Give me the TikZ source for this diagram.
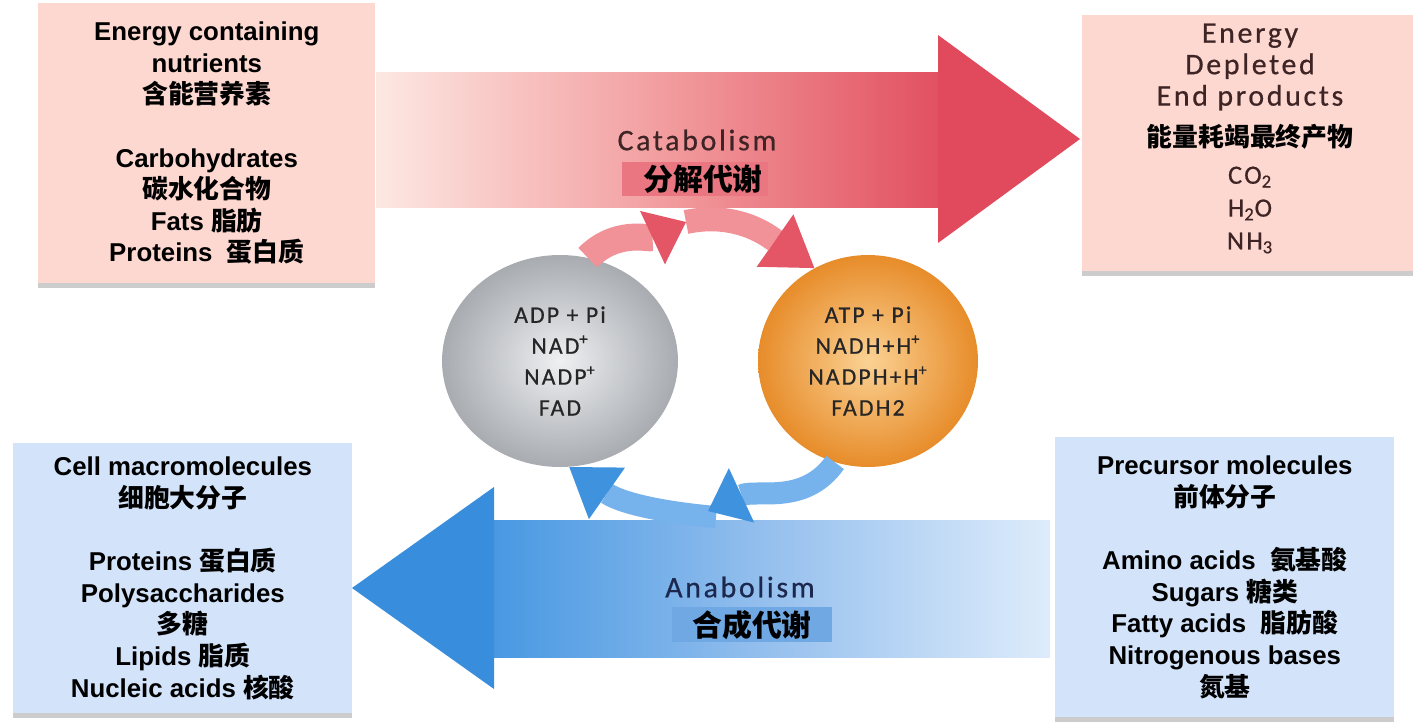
\documentclass[tikz,border=0pt]{standalone}
\usepackage{fontspec}
\setmainfont{Liberation Sans}
\newfontfamily\cjk{Noto Sans CJK SC}
\newfontfamily\cali{Carlito}[LetterSpace=9, FakeBold=0.6]
\usetikzlibrary{arrows.meta,shapes.geometric,shadows,positioning}
\newcommand\zh[1]{{\cjk\bfseries #1}}

\definecolor{pinkbox}{RGB}{253,216,209}
\definecolor{bluebox}{RGB}{211,228,250}
\definecolor{catpale}{RGB}{253,232,226}
\definecolor{catmid}{RGB}{242,158,160}
\definecolor{catbody}{RGB}{226,80,96}
\definecolor{cathead}{RGB}{225,74,92}
\definecolor{catlabel}{RGB}{233,118,128}
\definecolor{anabody}{RGB}{72,152,226}
\definecolor{anamid}{RGB}{150,192,238}
\definecolor{anapale}{RGB}{222,236,251}
\definecolor{anahead}{RGB}{56,142,220}
\definecolor{analabel}{RGB}{112,168,228}
\definecolor{grayin}{RGB}{238,240,242}
\definecolor{grayout}{RGB}{168,171,176}
\definecolor{orangein}{RGB}{251,210,148}
\definecolor{orangeout}{RGB}{231,140,42}
\definecolor{smallred}{RGB}{240,146,152}
\definecolor{smallredtip}{RGB}{228,86,102}
\definecolor{smallblue}{RGB}{118,178,236}
\definecolor{smallbluetip}{RGB}{62,146,222}
\definecolor{brownink}{RGB}{62,36,36}
\definecolor{navyink}{RGB}{28,40,78}

\tikzset{
  panel/.style={anchor=north west, inner sep=0pt, fill=#1,
    drop shadow={shadow xshift=0pt, shadow yshift=-2.5pt, opacity=0.4}},
  boxtext/.style={align=center, font=\fontsize{14.7}{18}\selectfont\bfseries},
  cal/.style={align=center, font=\cali\fontsize{17}{17.9}\selectfont},
  sphere/.style={ellipse, inner sep=0pt, align=center, text=black!85,
    font=\cali\fontsize{13.5}{17.6}\selectfont},
  cyc/.style={line width=0.5cm}
}

\begin{document}
\begin{tikzpicture}[x=0.02cm, y=0.02cm]
  \useasboundingbox (0,0) rectangle (1416,-721);
  \fill[white] (0,0) rectangle (1416,-721);
  % the four panels
  \node[panel=pinkbox, minimum width=6.74cm, minimum height=5.6cm] (src) at (38,-3) {};
  \node[panel=pinkbox, minimum width=6.62cm, minimum height=5.12cm] (sink) at (1082,-15) {};
  \node[panel=bluebox, minimum width=6.78cm, minimum height=5.4cm] (macro) at (13,-443) {};
  \node[panel=bluebox, minimum width=6.78cm, minimum height=5.6cm] (prec) at (1055,-437) {};
  % big arrows
  \shade[left color=catpale, right color=catbody, middle color=catmid] (376,-72) rectangle (940,-207);
  \fill[cathead] (938,-35) -- (1080,-139) -- (938,-243) -- cycle;
  \shade[left color=anabody, right color=anapale, middle color=anamid] (492,-520) rectangle (1050,-657);
  \fill[anahead] (494,-487) -- (352,-588) -- (494,-689) -- cycle;
  % panel texts
  \node[boxtext] (srctxt) at (src.center) {Energy containing\\nutrients\\\zh{含能营养素}\\[18pt]Carbohydrates\\\zh{碳水化合物}\\Fats \zh{脂肪}\\Proteins\ \ \zh{蛋白质}};
  \node[cal, text=brownink] (sinktxt) at (1250,-67) {Energy\\Depleted\\End products};
  \node[boxtext] (sinkzh) at (1250,-137) {\zh{能量耗竭最终产物}};
  \node[cal, text=brownink, font=\cali\fontsize{15}{18.7}\selectfont] (gases) at (1250,-210) {CO\textsubscript{2}\\H\textsubscript{2}O\\NH\textsubscript{3}};
  \node[boxtext] (macrotxt) at (macro.center) {Cell macromolecules\\\zh{细胞大分子}\\[18pt]Proteins \zh{蛋白质}\\Polysaccharides\\\zh{多糖}\\Lipids \zh{脂质}\\Nucleic acids \zh{核酸}};
  \node[boxtext] (prectxt) at (prec.center) {Precursor molecules\\\zh{前体分子}\\[18pt]Amino acids\ \ \zh{氨基酸}\\Sugars \zh{糖类}\\Fatty acids\ \ \zh{脂肪酸}\\Nitrogenous bases\\\zh{氮基}};
  % arrow labels
  \node[cal, text=brownink] (cata) at (697,-140) {Catabolism};
  \fill[catlabel] (622,-162) rectangle (768,-196);
  \node[font=\fontsize{17}{20}\selectfont] (catazh) at (703,-179) {\zh{分解代谢}};
  \node[cal, text=navyink] (ana) at (740,-587) {Anabolism};
  \fill[analabel] (672,-607) rectangle (832,-642);
  \node[font=\fontsize{17}{20}\selectfont] (anazh) at (752,-625) {\zh{合成代谢}};
  % the two carriers
  \node[sphere, minimum width=4.72cm, minimum height=4.24cm, inner color=grayin, outer color=grayout] (ox) at (560,-361) {ADP + Pi\\NAD\textsuperscript{+}\\NADP\textsuperscript{+}\\FAD};
  \node[sphere, minimum width=4.4cm, minimum height=4.24cm, inner color=orangein, outer color=orangeout] (rd) at (868,-361) {ATP + Pi\\NADH+H\textsuperscript{+}\\NADPH+H\textsuperscript{+}\\FADH2};
  % small cycle arrows
  \coordinate (peak) at (686,-222);
  \coordinate (dip) at (708,-511);
  \coordinate (dip2) at (716,-517);
  \draw[cyc, smallred, line width=0.48cm, -{Triangle[length=0.96cm, width=1.28cm, line width=0pt, color=smallredtip]}] (peak) to[out=12, in=145] (rd.120);
  \draw[cyc, smallred, line width=0.54cm, -{Triangle[length=0.74cm, width=1.18cm, line width=0pt, color=smallredtip]}] (ox.75) to[out=45, in=205] (peak);
  \draw[cyc, smallblue, line width=0.44cm, -{Triangle[length=0.92cm, width=1.26cm, line width=0pt, color=smallbluetip]}] (dip2) to[out=175, in=325] (ox.275);
  \draw[cyc, smallblue, line width=0.44cm, -{Triangle[length=0.74cm, width=1.2cm, line width=0pt, color=smallbluetip]}] (rd.252) to[out=235, in=25] (dip);
\end{tikzpicture}
\end{document}
